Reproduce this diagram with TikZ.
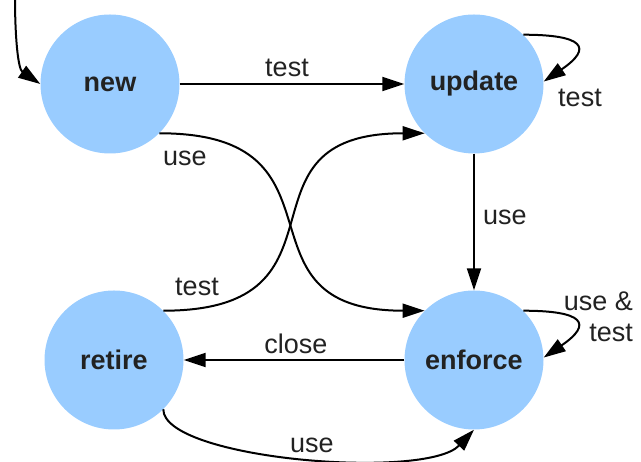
\documentclass[tikz,border=0pt]{standalone}
\usepackage{fontspec}
\setmainfont{Liberation Sans}
\usetikzlibrary{arrows.meta}
\definecolor{stateblue}{RGB}{153,204,255}
\definecolor{txt}{RGB}{34,34,34}
\begin{document}
\begin{tikzpicture}[x=1pt,y=1pt,
  state/.style={circle,fill=stateblue,draw=none,minimum size=139pt,inner sep=0pt,
    font=\fontsize{27pt}{31pt}\selectfont\bfseries,text=txt},
  lbl/.style={font=\fontsize{27pt}{31pt}\selectfont,text=txt,inner sep=0pt},
  conn/.style={line width=2pt,-{Triangle[length=22pt,width=14pt]}}]
\useasboundingbox (0,0) rectangle (641,462);
\node[state] (new) at (110,378) {new};
\node[state] (update) at (474,378) {update};
\node[state] (retire) at (114,102) {retire};
\node[state] (enforce) at (474,102) {enforce};
\coordinate (start) at (15,464);
% initial arrow
\draw[conn] (start) .. controls (15,425) and (18,393) .. (new.180);
% new -> update
\draw[conn] (new) -- (update);
\node[lbl] (l1) at (287,394) {test};
% update self loop
\draw[conn] (update.45) .. controls +(60,0) and +(50,34) .. (update.2);
\node[lbl] (l2) at (580,364) {test};
% new -> enforce
\draw[conn] (new.-45) .. controls +(200,0) and +(-200,0) .. (enforce.135);
\node[lbl] (l3) at (185,304) {use};
% retire -> update
\draw[conn] (retire.45) .. controls +(200,0) and +(-200,0) .. (update.225);
\node[lbl] (l4) at (197,175) {test};
% update -> enforce
\draw[conn] (update) -- (enforce);
\node[lbl] (l5) at (505,245) {use};
% enforce self loop
\draw[conn] (enforce.45) .. controls +(60,0) and +(50,34) .. (enforce.2);
\node[lbl,align=right,anchor=east] (l6) at (633,145) {use \&\\test};
% enforce -> retire
\draw[conn] (enforce) -- (retire);
\node[lbl] (l7) at (296,118) {close};
% retire -> enforce
\draw[conn] (retire.-45) .. controls +(0,-50) and +(-48,-51) .. (enforce.-90);
\node[lbl] (l8) at (312,17) {use};
\end{tikzpicture}
\end{document}
